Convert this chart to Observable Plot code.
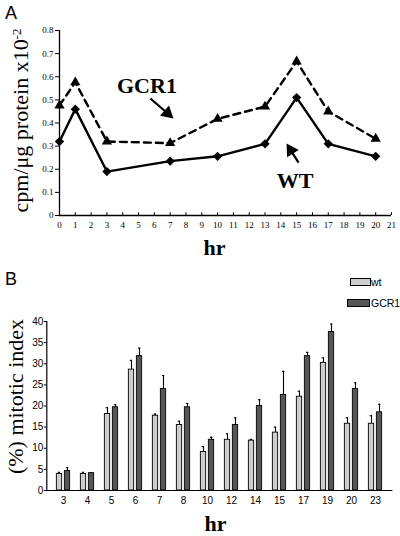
<!DOCTYPE html>
<html><head><meta charset="utf-8">
<script src="https://cdn.jsdelivr.net/npm/d3@7"></script>
<script src="https://cdn.jsdelivr.net/npm/@observablehq/plot@0.6"></script>
<style>
body{margin:0;background:#fff;}
#wrap{position:relative;width:400px;height:536px;overflow:hidden;font-family:"Liberation Sans",Arial,sans-serif;color:#000;}
#wrap svg{position:absolute;left:0;overflow:visible;}
.abs{position:absolute;white-space:nowrap;line-height:1;}
</style></head><body><div id="wrap"></div>
<script>
// ---------- Panel A data ----------
const hoursA = [0, 1, 3, 7, 10, 13, 15, 17, 20];
const wtA    = [0.32, 0.46, 0.19, 0.235, 0.256, 0.31, 0.51, 0.31, 0.256];
const gcr1A  = [0.476, 0.576, 0.32, 0.313, 0.418, 0.471, 0.666, 0.45, 0.332];
const xTicksA = [0,1,2,3,4,5,6,7,8,9,10,11,12,13,14,15,16,17,18,19,20,21];
const yTicksA = [0, 0.1, 0.2, 0.3, 0.4, 0.5, 0.6, 0.7, 0.8];
// annotations (data units)
const annLabel = ["GCR1", "WT"];
const annX = [5.53, 14.9];
const annY = [0.562, 0.151];
const arrTailX = [5.75, 15.12];
const arrTailY = [0.506, 0.229];
const arrHeadX = [6.83, 14.63];
const arrHeadY = [0.442, 0.282];
const arrAngle = [131, -32];

// ---------- Panel B data ----------
const hoursB   = ["3","4","5","6","7","8","10","12","14","15","17","19","20","23"];
const wtB      = [3.9, 3.9, 18.1, 28.6, 17.7, 15.5, 9.1, 12.0, 11.8, 13.7, 22.2, 30.2, 15.8, 15.8];
const wtErrB   = [4.3, 4.3, 19.6, 30.8, 18.1, 16.4, 10.4, 13.4, 12.1, 15.0, 23.5, 31.4, 17.2, 17.7];
const gcr1B    = [4.6, 4.1, 19.7, 31.8, 24.0, 19.7, 12.0, 15.5, 20.0, 22.6, 31.8, 37.5, 24.0, 18.5];
const gcr1ErrB = [5.4, 4.2, 20.3, 33.7, 27.2, 20.6, 12.6, 17.2, 21.5, 28.2, 32.7, 39.4, 25.5, 20.4];
const yTicksB  = [0, 5, 10, 15, 20, 25, 30, 35, 40];
const legendLabels = ["wt", "GCR1"];

const serif = '"Liberation Serif","Times New Roman",serif';
const sans = '"Liberation Sans",Arial,Helvetica,sans-serif';
const wrap = document.getElementById("wrap");

// ---------- Panel A ----------
const rowsA = hoursA.map((h, i) => ({hr: h, wt: wtA[i], gcr1: gcr1A[i]}));
const ann = annLabel.map((t, i) => i);
const plotA = Plot.plot({
  width: 400, height: 260,
  marginLeft: 59, marginRight: 9, marginTop: 30, marginBottom: 45,
  style: {fontFamily: serif, fontSize: "9px", background: "transparent", color: "#000", overflow: "visible"},
  x: {domain: [0, 21]},
  y: {domain: [0, 0.8]},
  marks: [
    Plot.axisY(yTicksA, {tickSize: 4, tickPadding: 2, tickFormat: d => d === 0 ? "0" : d.toFixed(1), label: null}),
    Plot.axisX(xTicksA, {tickSize: 0, tickPadding: 6, label: null}),
    Plot.ruleX(xTicksA, {y1: 0, y2: 0.012, strokeWidth: 1}),
    Plot.ruleY([0], {strokeWidth: 1.3}),
    Plot.ruleX([0], {strokeWidth: 1.3}),
    Plot.line(rowsA, {x: "hr", y: "gcr1", strokeWidth: 2.4, strokeDasharray: "7,5"}),
    Plot.line(rowsA, {x: "hr", y: "wt", strokeWidth: 2.4}),
    Plot.dot(rowsA, {x: "hr", y: "gcr1", symbol: "triangle", r: 3.8, fill: "black", stroke: "none"}),
    Plot.dot(rowsA, {x: "hr", y: "wt", symbol: "diamond2", r: 4.2, fill: "black", stroke: "none"}),
    Plot.text(ann, {x: i => annX[i], y: i => annY[i], text: i => annLabel[i], fontSize: 22, fontWeight: "bold"}),
    Plot.link(ann, {x1: i => arrTailX[i], y1: i => arrTailY[i], x2: i => arrHeadX[i], y2: i => arrHeadY[i], strokeWidth: 2.2}),
    Plot.dot(ann, {x: i => arrHeadX[i], y: i => arrHeadY[i], symbol: "triangle", r: 5.1, rotate: i => arrAngle[i], fill: "black", stroke: "none"}),
    Plot.text(["hr"], {text: d => d, frameAnchor: "bottom", textAnchor: "middle", dx: -11, dy: 39, fontSize: 22, fontWeight: "bold"}),
    Plot.text(["cpm/μg protein x10"], {text: d => d, frameAnchor: "left", textAnchor: "middle", rotate: -90, dx: -39, dy: -2.5, fontSize: 22})
  ]
});
d3.select(plotA).selectAll("text")
  .filter(function() { return this.textContent === "cpm/μg protein x10"; })
  .append("tspan").attr("dy", "-0.5em").attr("font-size", "13px").text("-2");
plotA.style.top = "0px";
wrap.appendChild(plotA);

// ---------- Panel B ----------
const rowsB = hoursB.map((h, i) => ({hr: h, wt: wtB[i], wtErr: wtErrB[i], gcr1: gcr1B[i], gcr1Err: gcr1ErrB[i]}));
const plotB = Plot.plot({
  width: 400, height: 276,
  marginLeft: 46.3, marginRight: 7.6, marginTop: 61, marginBottom: 46,
  style: {fontFamily: sans, fontSize: "10px", background: "transparent", color: "#000", overflow: "visible"},
  x: {domain: hoursB, padding: 0},
  y: {domain: [0, 40]},
  marks: [
    Plot.ruleX(rowsB, {x: "hr", y1: "wt", y2: "wtErr", dx: -4, strokeWidth: 1.1}),
    Plot.ruleX(rowsB, {x: "hr", y1: "gcr1", y2: "gcr1Err", dx: 4, strokeWidth: 1.1}),
    Plot.tickY(rowsB, {x: "hr", y: "wtErr", insetLeft: 6.7, insetRight: 15, strokeWidth: 1.1}),
    Plot.tickY(rowsB, {x: "hr", y: "gcr1Err", insetLeft: 15, insetRight: 6.7, strokeWidth: 1.1}),
    Plot.barY(rowsB, {x: "hr", y: "wt", fill: "#cdcdcd", stroke: "black", strokeWidth: 0.9, insetLeft: 5.35, insetRight: 13.35}),
    Plot.barY(rowsB, {x: "hr", y: "gcr1", fill: "#575757", stroke: "black", strokeWidth: 0.9, insetLeft: 13.35, insetRight: 5.35}),
    Plot.ruleY([0], {strokeWidth: 1.2}),
    Plot.frame({anchor: "left", strokeWidth: 1.2}),
    Plot.axisY(yTicksB, {tickSize: 2.5, tickPadding: 1, label: null}),
    Plot.axisX({tickSize: 0, tickPadding: 6, label: null}),
    Plot.text(["hr"], {text: d => d, frameAnchor: "bottom", textAnchor: "middle", dx: -4.4, dy: 40.5, fontSize: 22, fontWeight: "bold", fontFamily: serif}),
    Plot.text(["(%) mitotic index"], {text: d => d, frameAnchor: "left", textAnchor: "middle", rotate: -90, dx: -31.3, dy: -9.5, fontSize: 22, fontFamily: serif})
  ]
});
plotB.style.top = "260px";
wrap.appendChild(plotB);

// ---------- Panel letters and legend ----------
function addText(txt, left, top, size, extra) {
  const d = document.createElement("div");
  d.className = "abs";
  d.textContent = txt;
  d.style.left = left + "px";
  d.style.top = top + "px";
  d.style.fontSize = size + "px";
  if (extra) Object.assign(d.style, extra);
  wrap.appendChild(d);
  return d;
}
addText("A", 5, 4, 18);
addText("B", 5, 270, 18);
const legColors = ["#cdcdcd", "#575757"];
legendLabels.forEach((lab, i) => {
  const box = document.createElement("div");
  box.className = "abs";
  Object.assign(box.style, {left: (i === 0 ? 350 : 347) + "px", top: (278 + i * 21) + "px",
    width: (i === 0 ? 19 : 21) + "px", height: "6px", background: legColors[i], border: "1px solid #000"});
  wrap.appendChild(box);
  addText(lab, 371, 276.5 + i * 21, 10.5);
});
</script></body></html>
